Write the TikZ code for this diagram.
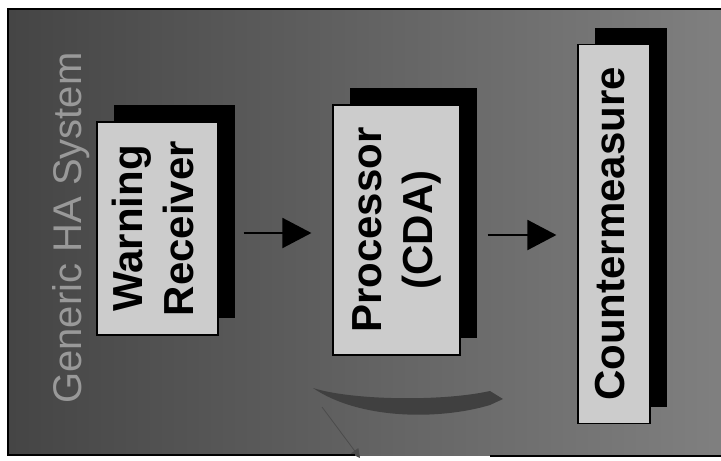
\documentclass[tikz,border=0pt]{standalone}
\usepackage{fontspec}
\setmainfont{Liberation Sans}
\usepackage{tikz}
\usetikzlibrary{arrows.meta,shadows,calc}
\definecolor{bgdark}{gray}{0.27}
\definecolor{bgmid}{gray}{0.42}
\definecolor{bglight}{gray}{0.5}
\definecolor{boxfill}{gray}{0.8}
\definecolor{titlegray}{gray}{0.6}
\definecolor{arcgray}{gray}{0.25}

\begin{document}
\begin{tikzpicture}[x=1pt,y=-1pt,
  blk/.style={draw=black,line width=1.2pt,fill=boxfill,inner sep=0pt,
    font=\bfseries\fontsize{42}{51}\selectfont,
    drop shadow={shadow xshift=17pt,shadow yshift=17pt,fill=black,opacity=1}},
  flow/.style={line width=2pt,-{Triangle[length=29pt,width=30pt]}}]
\useasboundingbox (0,0) rectangle (721,461);
\shade[left color=bgdark,middle color=bgmid,right color=bglight] (8,9) rectangle (721,455);
\node[rotate=90,inner sep=0pt,text=titlegray,font=\fontsize{40}{44}\selectfont] (T) at (71,228) {Generic HA System};
\foreach \n/\x/\y/\w/\h/\t in {wr/157.5/228.5/121/213/{Warning\\Receiver},
    pr/396.5/230/127/250/{Processor\\(CDA)},cm/614/234/72/379/{Countermeasure}}
  \node[blk,minimum width=\w,minimum height=\h] (\n) at (\x,\y)
    {\rotatebox{90}{\begin{tabular}{@{}c@{}}\t\end{tabular}}};
\draw[flow] ($(wr.east|-pr.west)+(25,3)$) -- ($(pr.west)+(-21,3)$);
\draw[flow] ($(pr.east|-cm.west)+(27,1)$) -- ($(cm.west)+(-21,1)$);
% curved band under the processor
\fill[arcgray] (313,388) .. controls (350,400) and (440,402) .. (490,391) -- (503,399)
  -- (490,405) .. controls (440,420) and (360,420) .. (313,388) -- cycle;
\coordinate (L) at (322,407); \coordinate (M) at (360,458);
\draw[line width=0.8pt,black!70,-{Triangle[length=9pt,width=9pt]}] (L) -- (M);
\draw[line width=1.5pt] (721,9) -- (8,9) -- (8,455) -- (355,455);
\draw[line width=1.5pt] (490,456) -- (721,456);
\end{tikzpicture}
\end{document}
